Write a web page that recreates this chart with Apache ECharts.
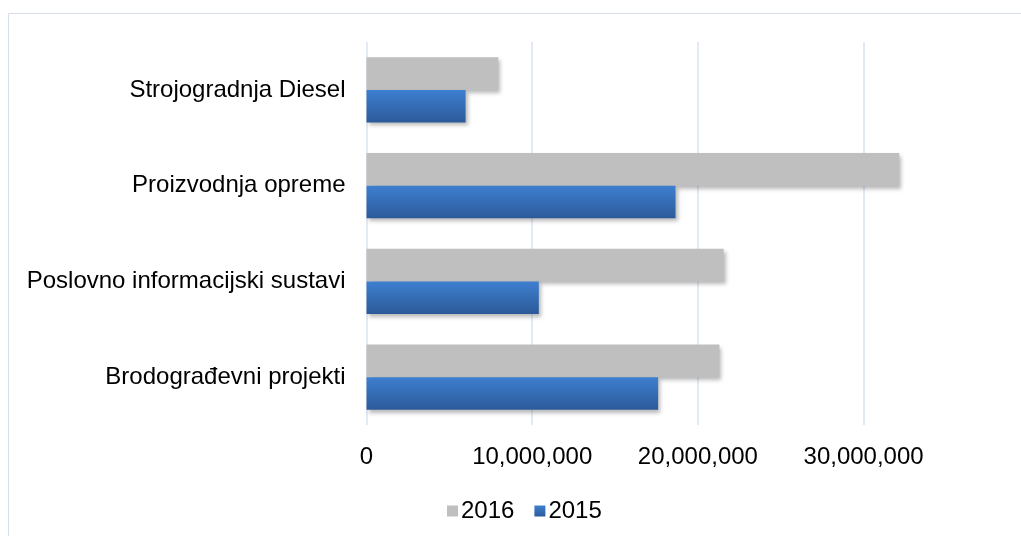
<!DOCTYPE html>
<html>
<head>
<meta charset="utf-8">
<script src="https://cdn.jsdelivr.net/npm/echarts@6/dist/echarts.min.js"></script>
<style>
  html, body { margin: 0; padding: 0; background: #fff; }
  #chart { width: 1021px; height: 536px; }
</style>
</head>
<body>
<div id="chart"></div>
<script>
const categories = [
  'Strojogradnja Diesel',
  'Proizvodnja opreme',
  'Poslovno informacijski sustavi',
  'Brodograđevni projekti',
];
const values2016 = [7950000, 32150000, 21550000, 21300000];
const values2015 = [5980000, 18650000, 10400000, 17600000];
// axis runs past the right edge of the picture; last gridline/label is clipped
const axisMin = 0;
const axisMax = 39500000;
const axisStep = 10000000;

const chart = echarts.init(document.getElementById('chart'), null, { renderer: 'canvas' });

const fontFamily = '"Liberation Sans", Arial, sans-serif';
const shadow = {
  shadowBlur: 4,
  shadowOffsetX: 2,
  shadowOffsetY: 3,
  shadowColor: 'rgba(0,0,0,0.28)',
};

const option = {
  backgroundColor: '#fff',
  animation: false,
  graphic: [
    {
      type: 'rect',
      shape: { x: 8.5, y: 13.5, width: 2000, height: 2000 },
      style: { fill: 'none', stroke: '#d6deea', lineWidth: 1 },
      silent: true,
      z: -10,
    },
  ],
  legend: {
    data: ['2016', '2015'],
    left: 442,
    top: 494,
    itemWidth: 11,
    itemHeight: 11,
    itemGap: 20,
    icon: 'rect',
    textStyle: { fontFamily, fontSize: 24, color: '#000', padding: [0, 0, 0, -2] },
  },
  grid: { left: 366.5, right: 0, top: 42, bottom: 111, containLabel: false },
  xAxis: {
    type: 'value',
    min: axisMin,
    max: axisMax,
    interval: axisStep,
    axisLine: { show: false },
    axisTick: { show: false },
    splitLine: { showMaxLine: false, lineStyle: { color: '#d9e4f2', width: 1.5 } },
    axisLabel: {
      showMaxLabel: false,
      margin: 20,
      fontFamily,
      fontSize: 24,
      color: '#000',
      formatter: (v) => v.toLocaleString('en-US'),
    },
  },
  yAxis: {
    type: 'category',
    data: categories,
    inverse: true,
    axisLine: { show: false },
    axisTick: { show: false },
    splitLine: { show: false },
    axisLabel: { margin: 21, fontFamily, fontSize: 24, color: '#000' },
  },
  series: [
    {
      name: '2016',
      type: 'bar',
      data: values2016,
      barGap: '0%',
      barCategoryGap: '32%',
      itemStyle: Object.assign({ color: '#bfbfbf' }, shadow),
    },
    {
      name: '2015',
      type: 'bar',
      data: values2015,
      itemStyle: Object.assign({
        color: new echarts.graphic.LinearGradient(0, 0, 0, 1, [
          { offset: 0, color: '#3e7fd0' },
          { offset: 1, color: '#2c5a99' },
        ]),
      }, shadow),
    },
  ],
};

chart.setOption(option);
</script>
</body>
</html>
